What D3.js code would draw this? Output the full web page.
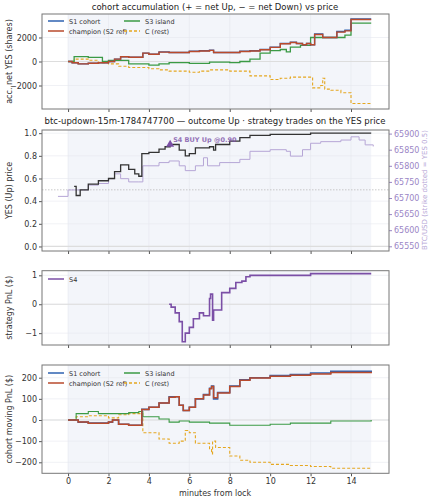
<!DOCTYPE html><html><head><meta charset="utf-8"><script src="https://cdn.jsdelivr.net/npm/d3@7"></script>
<style>body{margin:0;background:#fff}text{font-family:"DejaVu Sans",sans-serif}</style></head><body><svg id="c" width="429" height="500"></svg>
<script>
const accS1=[[0,0],[0.2,-100],[0.5,-200],[1,-150],[1.5,-100],[2,0],[2.3,200],[2.6,400],[3,350],[3.5,350],[3.7,700],[4,600],[4.5,800],[5,750],[6,850],[6.5,900],[7,950],[7.2,750],[8.5,850],[9,900],[9.5,1000],[10,1200],[10.5,1500],[11,1600],[11.3,1500],[11.6,1400],[11.8,1500],[12,1400],[12.2,2300],[12.6,2000],[13.3,2500],[13.7,2600],[14,3550],[15,3550]];
const accCh=[[0,0],[0.2,-100],[0.5,-200],[1,-150],[1.5,-100],[2,0],[2.3,200],[2.6,400],[3,350],[3.5,350],[3.7,700],[4,600],[4.5,780],[5,750],[6,830],[6.5,880],[7,930],[7.2,750],[8.5,830],[9,880],[9.5,980],[10,1180],[10.5,1480],[11,1580],[11.3,1500],[11.6,1400],[11.8,1500],[12,1400],[12.2,2250],[12.6,2000],[13.3,2450],[13.7,2550],[14,3500],[15,3500]];
const accS3=[[0,0],[0.3,400],[1,350],[1.5,350],[1.7,0],[2,100],[3,-200],[4,-300],[4.5,-200],[5,-100],[6,-150],[7,-50],[8,-100],[8.5,0],[9,200],[9.5,700],[10,900],[10.5,1000],[10.8,800],[11,1200],[11.5,1350],[12,2000],[13,2000],[13.7,2200],[14,3200],[15,3200]];
const accC=[[0,0],[0.3,200],[1,100],[1.5,-100],[2,-200],[2.5,-400],[3,-500],[4,-600],[4.5,-700],[5,-800],[6,-900],[6.5,-800],[7,-700],[8,-800],[9,-1200],[10,-1500],[10.5,-1400],[11,-1300],[12,-1300],[12.1,-2200],[12.5,-2000],[12.6,-1400],[12.7,-2300],[13,-2400],[13.5,-2600],[14,-3500],[15,-3500]];
const yesPrice=[[0.3,0.53],[0.4,0.45],[0.6,0.5],[1,0.55],[1.5,0.58],[2,0.6],[2.3,0.66],[2.6,0.72],[3,0.68],[3.3,0.64],[3.5,0.62],[3.65,0.82],[4,0.83],[4.5,0.86],[4.8,0.88],[5.05,0.9],[5.5,0.85],[5.8,0.8],[6,0.82],[6.3,0.87],[7,0.88],[7.2,0.85],[7.3,0.9],[8,0.93],[8.5,0.96],[9,0.98],[10,0.99],[12,1.0],[15,1.0]];
const btc=[[-0.5,65705],[0,65725],[1,65740],[1.5,65745],[2,65760],[2.3,65775],[2.6,65760],[3,65750],[3.5,65750],[3.7,65800],[4.5,65810],[5,65815],[5.5,65800],[5.8,65785],[6.3,65800],[6.7,65825],[6.9,65800],[7.5,65810],[8.5,65820],[9,65845],[10,65850],[10.8,65845],[11,65830],[11.6,65850],[12,65870],[12.5,65875],[13.5,65880],[14,65890],[14.4,65880],[14.7,65865],[15.1,65860]];
const pnlS4=[[5.0,0],[5.1,-0.1],[5.3,-0.3],[5.5,-0.6],[5.65,-1.3],[5.8,-1.0],[6,-0.8],[6.2,-0.5],[6.5,-0.3],[6.7,-0.4],[7,0.2],[7.05,0.35],[7.15,-0.55],[7.2,-0.2],[7.6,0.4],[8,0.55],[8.3,0.75],[8.6,0.8],[8.8,0.95],[9,1.0],[11,1.0],[12,1.06],[15,1.06]];
const mS1=[[0,0],[0.5,-10],[1,-15],[1.5,-15],[2,-10],[2.2,0],[2.5,-20],[3,-25],[3.5,-25],[3.65,50],[4,60],[4.5,80],[5,110],[5.3,110],[5.5,70],[5.7,45],[6,60],[6.3,100],[6.7,120],[7,150],[7.1,160],[7.2,100],[7.4,130],[8,160],[8.5,190],[9,200],[10,210],[11,215],[12,222],[13,230],[15,234]];
const mCh=[[0,0],[0.5,-10],[1,-15],[1.5,-15],[2,-10],[2.2,0],[2.5,-20],[3,-25],[3.5,-25],[3.65,50],[4,60],[4.5,80],[5,108],[5.3,110],[5.5,70],[5.7,45],[6,60],[6.3,100],[6.7,118],[7,148],[7.1,158],[7.2,105],[7.4,128],[8,158],[8.5,188],[9,198],[10,207],[11,212],[12,218],[13,225],[15,228]];
const mS3=[[0,0],[0.4,30],[1,40],[1.5,30],[2,30],[3,35],[3.5,40],[3.7,15],[4,15],[4.5,5],[5,-10],[5.5,-5],[6,-10],[7,-15],[8,-25],[9,-25],[10,-20],[11,-15],[12,-15],[13,-5],[15,0]];
const mC=[[0,0],[0.4,15],[1,20],[2,10],[2.5,25],[3,30],[3.5,30],[3.7,-60],[4,-60],[4.5,-90],[5,-110],[5.5,-100],[5.8,-50],[6,-60],[6.3,-110],[7,-140],[7.1,-160],[7.15,-100],[7.3,-130],[8,-170],[8.5,-190],[9,-200],[10,-210],[11,-215],[12,-220],[13,-228],[15,-228]];
const xTicks=[0,2,4,6,8,10,12,14];

const svg=d3.select("#c");
const L=42,R=389;
const x=d3.scaleLinear().domain([-1.29,15.88]).range([L,R]);
const col={s1:"#2e62b0",ch:"#b94a2c",s3:"#3b9a45",c:"#e5a720",p:"#7b4fa6",btc:"#b6a6d6"};
function panel(top,bot,dom,ticks,fmt,ylab,showX){
  const y=d3.scaleLinear().domain(dom).range([bot,top]);
  const g=svg.append("g");
  g.append("rect").attr("x",x(0)).attr("y",top).attr("width",x(15)-x(0)).attr("height",bot-top).attr("fill","#f3f5fa");
  xTicks.forEach(t=>g.append("line").attr("x1",x(t)).attr("x2",x(t)).attr("y1",top).attr("y2",bot).attr("stroke","#e6e8ee").attr("stroke-width",0.6));
  ticks.forEach(t=>g.append("line").attr("x1",L).attr("x2",R).attr("y1",y(t)).attr("y2",y(t)).attr("stroke","#e6e8ee").attr("stroke-width",0.6));
  if(dom[0]<0&&dom[1]>0)g.append("line").attr("x1",L).attr("x2",R).attr("y1",y(0)).attr("y2",y(0)).attr("stroke","#ddd").attr("stroke-width",1.2);
  g.append("g").attr("transform",`translate(${L},0)`).call(d3.axisLeft(y).tickValues(ticks).tickFormat(fmt).tickSize(3).tickPadding(2)).call(a=>{a.select(".domain").remove();a.selectAll("text").attr("font-size",8).attr("fill","#333");a.selectAll("line").attr("stroke","#555")});
  g.append("g").attr("transform",`translate(0,${bot})`).call(d3.axisBottom(x).tickValues(xTicks).tickFormat(showX?d3.format("d"):"").tickSize(3).tickPadding(2)).call(a=>{a.select(".domain").remove();a.selectAll("text").attr("font-size",8).attr("fill","#333");a.selectAll("line").attr("stroke","#555")});
  g.append("text").attr("transform",`translate(${L-30},${(top+bot)/2}) rotate(-90)`).attr("text-anchor","middle").attr("font-size",8).attr("fill","#333").text(ylab);
  return {y,g,top,bot};
}
function frame(p){p.g.append("rect").attr("x",L).attr("y",p.top).attr("width",R-L).attr("height",p.bot-p.top).attr("fill","none").attr("stroke","#777").attr("stroke-width",1);}
function step(p,data,c,w,dash,yy){
  const ys=yy||p.y;
  p.g.append("path").datum(data).attr("d",d3.line().x(d=>x(d[0])).y(d=>ys(d[1])).curve(d3.curveStepAfter)).attr("fill","none").attr("stroke",c).attr("stroke-width",w).attr("stroke-dasharray",dash||null);
}
function legend(p,x0,y0,items){
  items.forEach((it,i)=>{const cx=x0+(i%2)*76,cy=y0+Math.floor(i/2)*10;
    p.g.append("line").attr("x1",cx).attr("x2",cx+16).attr("y1",cy).attr("y2",cy).attr("stroke",it[1]).attr("stroke-width",it[3]||1.5).attr("stroke-dasharray",it[2]||null);
    p.g.append("text").attr("x",cx+21).attr("y",cy+2.5).attr("font-size",6.5).attr("fill","#333").text(it[0]);});
}
const minus=d=>d3.format("d")(d).replace("-","−");
svg.append("text").attr("x",215).attr("y",10).attr("text-anchor","middle").attr("font-size",8.5).attr("fill","#222").text("cohort accumulation (+ = net Up, − = net Down) vs price");
const p1=panel(14,109,[-3958,3958],[-2000,0,2000],minus,"acc. net YES (shares)",false);
step(p1,accC,col.c,1.1,"3,2");step(p1,accS3,col.s3,1.3);step(p1,accS1,col.s1,1.4);step(p1,accCh,col.ch,1.4);
legend(p1,48,21,[["S1 cohort",col.s1],["S3 island",col.s3],["champion (S2 ref)",col.ch],["C (rest)",col.c,"3,2"]]);frame(p1);
svg.append("text").attr("x",215).attr("y",124).attr("text-anchor","middle").attr("font-size",8.5).attr("fill","#222").text("btc-updown-15m-1784747700 — outcome Up · strategy trades on the YES price");
const p2=panel(130,251,[-0.04,1.028],[0,0.2,0.4,0.6,0.8,1.0],d3.format(".1f"),"YES (Up) price",false);
const yb=d3.scaleLinear().domain([65900,65550]).range([133.6,246.3]);
p2.g.append("line").attr("x1",L).attr("x2",R).attr("y1",p2.y(0.5)).attr("y2",p2.y(0.5)).attr("stroke","#bbb").attr("stroke-dasharray","1.5,1.5").attr("stroke-width",0.8);
step(p2,btc,col.btc,1,null,yb);
step(p2,yesPrice,"#333",1.3);
p2.g.append("path").attr("d",d3.symbol(d3.symbolTriangle,28)()).attr("transform",`translate(${x(5.05)},${p2.y(0.9)})`).attr("fill",col.p);
p2.g.append("text").attr("x",x(5.05)+3).attr("y",p2.y(0.9)-3).attr("font-size",6.5).attr("font-weight","bold").attr("fill",col.p).attr("opacity",0.8).text("S4 BUY Up @0.90");
p2.g.append("g").attr("transform",`translate(${R},0)`).call(d3.axisRight(yb).tickValues(d3.range(65550,65901,50)).tickFormat(d3.format("d")).tickSize(3).tickPadding(2)).call(a=>{a.select(".domain").remove();a.selectAll("text").attr("font-size",8).attr("fill","#9b86c6");a.selectAll("line").attr("stroke","#9b86c6")});
p2.g.append("text").attr("transform",`translate(${R+38},190) rotate(-90)`).attr("text-anchor","middle").attr("font-size",7).attr("fill","#b6a6d6").text("BTC/USD (strike dotted = YES 0.5)");
frame(p2);
const p3=panel(270.7,345,[-1.41,1.16],[-1,0,1],minus,"strategy PnL ($)",false);
step(p3,pnlS4,col.p,1.6);
p3.g.append("line").attr("x1",48).attr("x2",64).attr("y1",279).attr("y2",279).attr("stroke",col.p).attr("stroke-width",1.5);
p3.g.append("text").attr("x",69).attr("y",281.5).attr("font-size",6.5).attr("fill","#333").text("S4");
frame(p3);
const p4=panel(365,473.3,[-252,260],[-200,-100,0,100,200],minus,"cohort moving PnL ($)",true);
step(p4,mC,col.c,1.1,"3,2");step(p4,mS3,col.s3,1.1);step(p4,mS1,col.s1,1.6);step(p4,mCh,col.ch,1.5);
legend(p4,48,373,[["S1 cohort",col.s1],["S3 island",col.s3],["champion (S2 ref)",col.ch],["C (rest)",col.c,"3,2"]]);frame(p4);
svg.append("text").attr("x",215).attr("y",496).attr("text-anchor","middle").attr("font-size",8).attr("fill","#333").text("minutes from lock");
</script></body></html>
